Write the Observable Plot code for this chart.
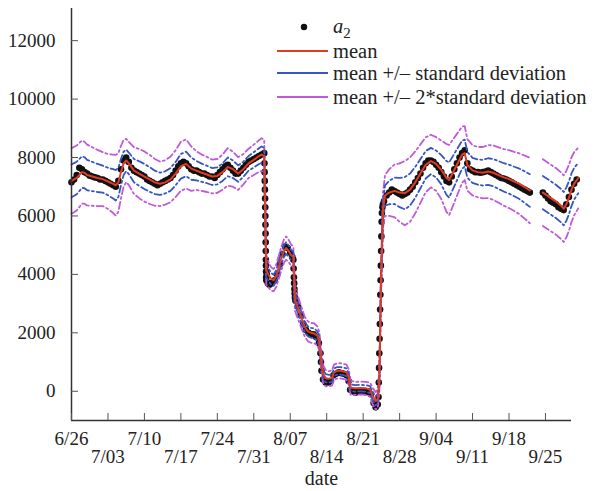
<!DOCTYPE html>
<html><head><meta charset="utf-8">
<script src="https://cdn.jsdelivr.net/npm/d3@7"></script>
<script src="https://cdn.jsdelivr.net/npm/@observablehq/plot@0.6"></script>
<style>
html,body{margin:0;padding:0;background:#fff;}
#wrap{position:relative;width:597px;height:491px;font-family:'Liberation Serif','Times New Roman',serif;}
#wrap svg, #wrap svg text{font-family:'Liberation Serif','Times New Roman',serif !important;}
#legend{position:absolute;left:0;top:0;pointer-events:none;}
</style></head>
<body><div id="wrap"></div>
<script>
// ---------- data ----------
const startDate = "2000-06-26";
const endDate = "2000-09-30";
const yDomain = [-1000, 13100];
const yTicks = [0, 2000, 4000, 6000, 8000, 10000, 12000];
const tickLabels = ["6/26","7/03","7/10","7/17","7/24","7/31","8/07","8/14","8/21","8/28","9/04","9/11","9/18","9/25"];
const seriesNames = ["a2", "mean", "mean +/\u2013 standard deviation", "mean +/\u2013 2*standard deviation"];
const seriesColors = ["#111111", "#e23b25", "#3656c0", "#c05ad6"];

// days since 6/26, rolling mean and standard deviation
const meanT = [0,0.5,1,1.5,2,2.5,3,4,5,6,7,8,8.5,9,9.5,10,10.5,11,12,13,14,15,16,17,18,19,20,21,22,23,24,25,26,27,28,29,30,31,32,33,34,35,36,36.5,37.0,
  37.4,37.8,38.3,38.8,39.3,39.8,40.3,40.8,41.2,41.7,42.2,42.6,42.9,43.6,44.2,44.8,45.4,46.0,46.6,47.2,47.6,47.9,48.3,48.8,49.4,50.0,50.4,51.0,51.6,52.2,52.8,53.2,53.6,54.5,55.5,56.5,57.3,57.8,58.4,58.8,59.1,59.4,59.8,60.2,
  61,62,63,64,65,66,67,68,69,70,71,72,72.5,73,74,75,75.5,76,77,78,79,80,81,82,83,84,85,86,87,88,89,
  90.5,91,92,93,94,94.5,95,95.5,96,96.5,97.3];
const meanV = [7200,7250,7300,7400,7500,7480,7400,7350,7300,7260,7180,7100,7050,7150,7500,7800,7900,7800,7550,7450,7350,7250,7150,7100,7150,7250,7450,7700,7780,7620,7550,7480,7420,7350,7370,7500,7680,7600,7450,7600,7800,7920,8050,8100,8050,
  4150,4000,3850,3800,3950,4250,4550,4800,4900,4800,4650,4600,3150,2800,2500,2200,2050,2000,1980,1900,1700,1100,600,450,430,450,650,700,700,680,650,500,120,100,110,100,60,-150,-330,-250,300,3500,6200,6700,
  6800,6860,6800,6780,6900,7150,7450,7750,7880,7780,7580,7300,7230,7400,7750,8100,8150,7750,7560,7500,7480,7520,7480,7400,7320,7260,7180,7100,6990,6870,null,
  6800,6740,6620,6500,6350,6250,6400,6620,6900,7100,7300];
const sdV = [560,560,555,550,540,530,520,500,480,460,470,500,520,500,450,400,370,370,400,420,430,420,400,380,380,390,400,420,420,380,330,310,300,290,290,300,320,300,280,260,250,260,270,280,280,
  250,220,200,190,190,200,200,200,200,190,180,180,200,190,180,170,170,170,170,160,160,170,150,140,130,130,130,130,130,130,130,130,120,110,110,110,120,140,150,160,200,250,300,350,
  400,450,500,550,550,530,500,470,450,460,500,580,600,580,530,480,460,440,430,430,440,455,465,475,485,495,505,520,540,560,null,
  570,570,570,570,570,570,570,565,555,540,520];

// observations a2 (days since 6/26, value)
const obsT = [0,0.5,1,1.5,2,2.5,3,3.5,4,4.5,5,5.5,6,6.5,7,7.5,8,8.5,9,9.5,10,10.5,11,11.5,12,12.5,13,13.5,14,14.5,15,15.5,16,16.5,17,17.5,18,18.5,19,19.5,20,20.5,21,21.5,22,22.5,23,23.5,24,24.5,25,25.5,26,26.5,27,27.5,28,28.5,29,29.5,30,30.5,31,31.5,32,32.5,33,33.5,34,34.5,35,35.5,36,36.5,37,
  37.05,37.08,37.11,37.14,37.17,37.2,37.22,37.24,37.26,37.28,37.3,37.32,37.34,37.36,37.38,37.4,
  37.5,37.7,38,38.5,39,39.5,40,40.5,41,41.5,42,42.4,42.6,42.65,42.7,42.75,42.8,42.85,42.9,43.0,43.5,44,44.5,45,45.5,46,46.5,47,47.5,47.8,47.9,48,48.3,48.8,49.3,49.8,50.3,50.8,51.3,51.8,52.3,52.8,53.2,53.5,54,54.5,55,55.5,56,56.5,57,57.5,58,58.4,58.8,
  58.95,59.0,59.05,59.1,59.15,59.2,59.25,59.3,59.35,59.4,59.45,59.5,59.55,59.6,59.7,59.8,
  60,60.5,61,61.5,62,62.5,63,63.5,64,64.5,65,65.5,66,66.5,67,67.5,68,68.5,69,69.5,70,70.5,71,71.5,72,72.5,73,73.5,74,74.5,75,75.5,76,76.5,77,77.5,78,78.5,79,79.5,80,80.5,81,81.5,82,82.5,83,83.5,84,84.5,85,85.5,86,86.5,87,87.5,88,
  90.5,91,91.5,92,92.5,93,93.5,94,94.5,95,95.5,96,96.5,97];
const obsV = [7150,7250,7400,7650,7600,7500,7450,7380,7350,7320,7300,7250,7250,7200,7150,7100,7050,7000,7200,7600,7900,8000,7850,7650,7550,7500,7450,7400,7350,7250,7200,7150,7100,7050,7100,7150,7200,7250,7300,7400,7550,7700,7800,7850,7800,7700,7600,7550,7550,7500,7450,7450,7400,7350,7350,7300,7400,7500,7600,7700,7750,7650,7550,7450,7450,7550,7650,7750,7850,7900,7950,8000,8050,8100,8150,
  7800,7500,7200,6900,6600,6300,6000,5700,5400,5100,4800,4500,4300,4100,3900,3800,
  4000,3700,3650,3700,3800,4000,4350,4700,4950,4900,4750,4600,4500,4200,3900,3700,3500,3350,3200,3100,2900,2600,2300,2100,2000,1950,1950,1850,1650,1300,1000,700,400,300,300,350,550,600,650,620,600,550,350,50,0,-50,0,-20,0,-30,0,-100,-400,-550,-450,
  -200,300,800,1300,1800,2300,2800,3300,3800,4300,4800,5300,5800,6100,6300,6400,
  6500,6700,6800,6900,6850,6800,6750,6700,6750,6800,6900,7000,7150,7300,7450,7650,7800,7900,7900,7850,7750,7650,7500,7350,7200,7150,7350,7600,7800,8000,8150,8250,7800,7600,7550,7500,7500,7480,7500,7520,7550,7500,7450,7400,7350,7300,7280,7250,7200,7150,7100,7050,7000,6950,6900,6850,6800,
  6800,6700,6600,6500,6450,6400,6300,6250,6200,6400,6650,6900,7100,7250];

// ---------- build tables ----------
const parseDay = d3.utcParse("%Y-%m-%d");
const day0 = parseDay(startDate);
const toDate = t => new Date(day0.getTime() + t * 864e5);
const meanRows = meanT.map((t, i) => {
  const m = meanV[i], s = sdV[i];
  const ok = m != null && s != null;
  return {date: toDate(t), mean: ok ? m : NaN,
    up1: ok ? m + s : NaN, lo1: ok ? m - s : NaN,
    up2: ok ? m + 2 * s : NaN, lo2: ok ? m - 2 * s : NaN};
});
const obsRows = obsT.map((t, i) => ({date: toDate(t), value: obsV[i]}));
const year = startDate.slice(0, 4);
const tickDates = tickLabels.map(s => d3.utcParse("%Y/%m/%d")(year + "/" + s));
const fmt = d3.utcFormat("%-m/%d");
const row1 = tickDates.filter((d, i) => i % 2 === 0);
const row2 = tickDates.filter((d, i) => i % 2 === 1);

const dashDot = "7,3,2,3";
const font = "'Liberation Serif', 'Times New Roman', serif";

const chart = Plot.plot({
  width: 597, height: 491,
  marginLeft: 71, marginRight: 26, marginTop: 8, marginBottom: 71,
  style: {fontFamily: font, fontSize: "19px", color: "#222", background: "white", overflow: "visible"},
  x: {type: "utc", domain: [day0, parseDay(endDate)], label: null},
  y: {domain: yDomain, label: null},
  marks: [
    Plot.dot(obsRows, {x: "date", y: "value", r: 3.3, fill: seriesColors[0], stroke: "none"}),
    Plot.line(meanRows, {x: "date", y: "up2", stroke: seriesColors[3], strokeWidth: 1.8, strokeDasharray: dashDot}),
    Plot.line(meanRows, {x: "date", y: "lo2", stroke: seriesColors[3], strokeWidth: 1.8, strokeDasharray: dashDot}),
    Plot.line(meanRows, {x: "date", y: "up1", stroke: seriesColors[2], strokeWidth: 1.8, strokeDasharray: dashDot}),
    Plot.line(meanRows, {x: "date", y: "lo1", stroke: seriesColors[2], strokeWidth: 1.8, strokeDasharray: dashDot}),
    Plot.line(meanRows, {x: "date", y: "mean", stroke: seriesColors[1], strokeWidth: 2}),
    Plot.ruleY([yDomain[0]], {stroke: "#333", strokeWidth: 1.5}),
    Plot.ruleX([day0], {stroke: "#333", strokeWidth: 1.5}),
    Plot.axisY(yTicks, {tickSize: -7, tickPadding: 23, tickFormat: d => String(d), stroke: "#555", label: null}),
    Plot.axisX(tickDates, {tickSize: -7, tickFormat: () => "", stroke: "#555", label: null}),
    Plot.axisX(row1, {tickSize: 0, tickPadding: 11, tickFormat: fmt, label: null}),
    Plot.axisX(row2, {tickSize: 0, tickPadding: 29, tickFormat: fmt, label: null}),
    Plot.text(["date"], {frameAnchor: "bottom", dy: 64, text: d => d, fontSize: 20, fill: "#222"})
  ]
});

const wrap = document.getElementById("wrap");
wrap.appendChild(chart);

// ---------- legend (overlay, top of plot) ----------
const lg = d3.select(wrap).append("svg").attr("id", "legend")
  .attr("width", 597).attr("height", 115)
  .style("font-family", font).style("font-size", "20.5px");
const entries = [
  {y: 27, kind: "dot"},
  {y: 51, kind: "line"},
  {y: 73, kind: "line"},
  {y: 97, kind: "line"}
];
entries.forEach((e, i) => {
  if (e.kind === "dot") {
    lg.append("circle").attr("cx", 304).attr("cy", e.y).attr("r", 3.2).attr("fill", seriesColors[0]);
    const t = lg.append("text").attr("x", 333).attr("y", e.y + 6).attr("fill", "#222");
    t.append("tspan").attr("font-style", "italic").text(seriesNames[0].charAt(0));
    t.append("tspan").attr("font-size", "15px").attr("dy", 5).text(seriesNames[0].slice(1));
  } else {
    lg.append("line").attr("x1", 277).attr("x2", 328).attr("y1", e.y).attr("y2", e.y)
      .attr("stroke", seriesColors[i]).attr("stroke-width", 2.2);
    lg.append("text").attr("x", 333).attr("y", e.y + 7).attr("fill", "#222").text(seriesNames[i]);
  }
});
</script>
</body></html>
